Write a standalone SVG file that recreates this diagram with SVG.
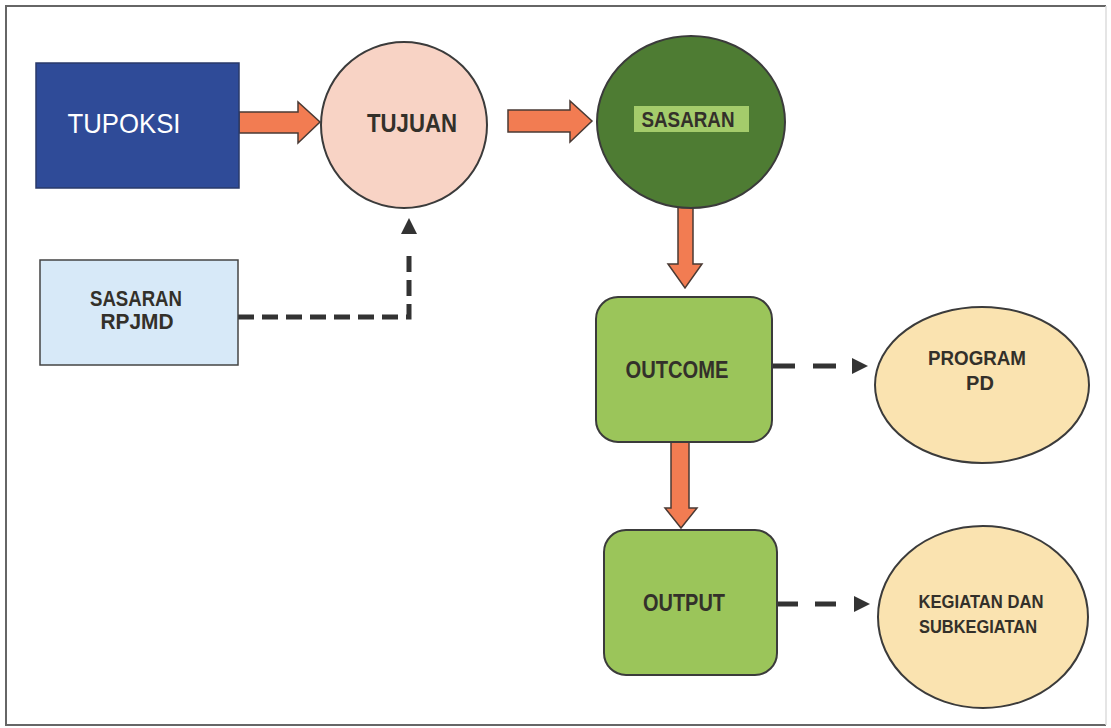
<svg xmlns="http://www.w3.org/2000/svg" width="1111" height="728" viewBox="0 0 1111 728">
<style>
  .lbl{font-family:"Liberation Sans",Arial,sans-serif;font-weight:bold;fill:#33302a;text-anchor:middle}
  .node{stroke:#3b3b3b;stroke-width:2}
  .block{fill:#f27c52;stroke:#4a3a34;stroke-width:1.5;stroke-linejoin:miter}
  .dash{fill:none;stroke:#333;stroke-width:5}
</style>
<defs>
  <marker id="ah" markerUnits="userSpaceOnUse" markerWidth="40" markerHeight="20" viewBox="0 0 40 20" refX="0" refY="10" orient="auto" overflow="visible">
    <path d="M16,2 L32,10 L16,18 Z" fill="#333"/>
  </marker>
</defs>
<rect x="0" y="0" width="1111" height="728" fill="#fff"/>
<path d="M1106,6 H6 V725 H1106" fill="none" stroke="#666" stroke-width="2"/>
<path d="M1106,6 V725" fill="none" stroke="#ddd" stroke-width="1.5"/>

<g id="connectors">
  <polygon class="block" points="239,112 298,112 298,102 320,122 298,143 298,133 239,133"/>
  <polygon class="block" points="508,110 570,110 570,101 592,121 570,142 570,132 508,132"/>
  <polygon class="block" points="678,207 693,207 693,264 702,264 685,288 668,264 678,264"/>
  <polygon class="block" points="671,442 689,442 689,508 697,508 681,528 665,508 671,508"/>
  <path class="dash" d="M238,317 H409 V250" stroke-dasharray="16 8" marker-end="url(#ah)"/>
  <path class="dash" d="M772,366 H836" stroke-dasharray="23 18" marker-end="url(#ah)"/>
  <path class="dash" d="M777,604 H838" stroke-dasharray="21 17" marker-end="url(#ah)"/>
</g>

<g id="tupoksi">
  <rect x="36" y="63" width="203" height="125" fill="#2f4b98" stroke="#2a3a6a" stroke-width="1.5"/>
  <text x="124" y="133" font-family="&quot;Liberation Sans&quot;,Arial,sans-serif" font-size="28" fill="#ffffff" text-anchor="middle" textLength="113" lengthAdjust="spacingAndGlyphs">TUPOKSI</text>
</g>

<g id="tujuan">
  <circle class="node" cx="404" cy="125" r="83" fill="#f8d3c5"/>
  <text class="lbl" x="412" y="132" font-size="26" textLength="90" lengthAdjust="spacingAndGlyphs">TUJUAN</text>
</g>

<g id="sasaran">
  <ellipse class="node" cx="691" cy="122" rx="94" ry="86" fill="#4e7c33"/>
  <rect x="634" y="106" width="115" height="26" fill="#a4cc6b"/>
  <text class="lbl" x="688" y="127" font-size="22" textLength="93" lengthAdjust="spacingAndGlyphs">SASARAN</text>
</g>

<g id="sasaran-rpjmd">
  <rect x="40" y="260" width="198" height="105" fill="#d7e9f8" stroke="#444" stroke-width="1.5"/>
  <text class="lbl" x="136" y="306" font-size="22" textLength="92" lengthAdjust="spacingAndGlyphs">SASARAN</text>
  <text class="lbl" x="137" y="329" font-size="22" textLength="73" lengthAdjust="spacingAndGlyphs">RPJMD</text>
</g>

<g id="outcome">
  <rect class="node" x="596" y="297" width="176" height="145" rx="22" ry="22" fill="#9bc55a"/>
  <text class="lbl" x="677" y="378" font-size="24" textLength="103" lengthAdjust="spacingAndGlyphs">OUTCOME</text>
</g>

<g id="program-pd">
  <ellipse class="node" cx="982" cy="385" rx="107" ry="78" fill="#fae3b0"/>
  <text class="lbl" x="977" y="365" font-size="20" textLength="98" lengthAdjust="spacingAndGlyphs">PROGRAM</text>
  <text class="lbl" x="980" y="390" font-size="20">PD</text>
</g>

<g id="output">
  <rect class="node" x="604" y="530" width="173" height="145" rx="22" ry="22" fill="#9bc55a"/>
  <text class="lbl" x="684" y="611" font-size="24" textLength="82" lengthAdjust="spacingAndGlyphs">OUTPUT</text>
</g>

<g id="kegiatan">
  <ellipse class="node" cx="983" cy="617" rx="105" ry="91" fill="#fae3b0"/>
  <text class="lbl" x="981" y="608" font-size="19" textLength="125" lengthAdjust="spacingAndGlyphs">KEGIATAN DAN</text>
  <text class="lbl" x="978" y="633" font-size="19" textLength="118" lengthAdjust="spacingAndGlyphs">SUBKEGIATAN</text>
</g>
</svg>
